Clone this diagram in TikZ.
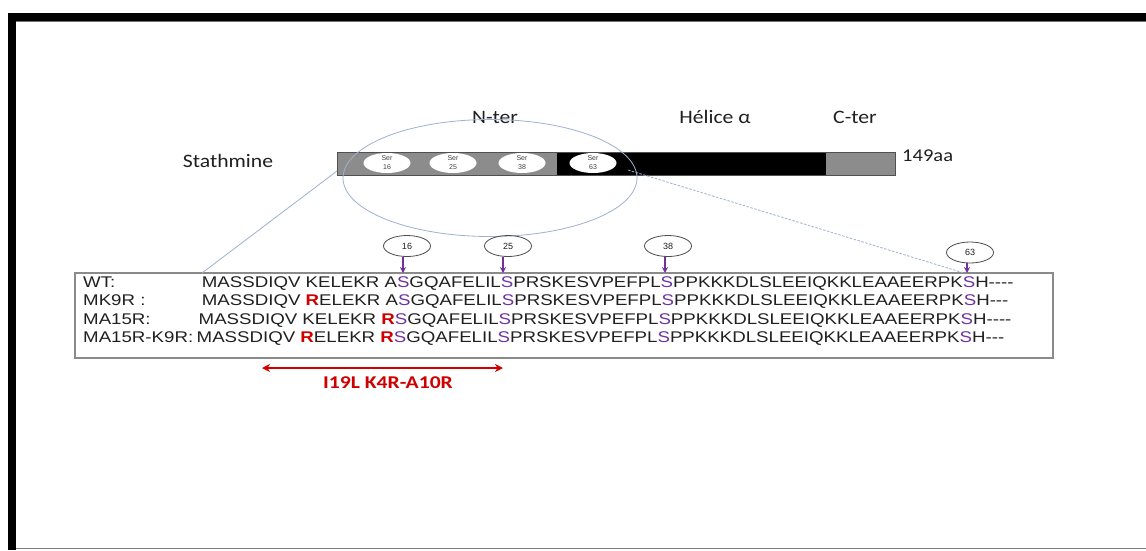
\documentclass[tikz,border=0pt]{standalone}
\usepackage{fontspec}
\usetikzlibrary{shapes.geometric,arrows.meta}
\newfontfamily\labfont[FakeStretch=1.14]{Carlito}
\newfontfamily\mutfont[FakeStretch=1.2]{Carlito}
\newfontfamily\seqfont[FakeStretch=1.205,Ligatures=ResetAll]{Liberation Sans}
\newfontfamily\tagfont{Liberation Sans}
\definecolor{barGray}{HTML}{8C8C8C}
\definecolor{barEdge}{HTML}{505050}
\definecolor{zoomBlue}{HTML}{9DB1D2}
\definecolor{serPurple}{HTML}{7030A0}
\definecolor{mutRed}{HTML}{D00000}
\definecolor{boxGray}{HTML}{8A8A8A}
\definecolor{labText}{HTML}{202020}
\newcommand\phS{\textcolor{serPurple}{S}}
\newcommand\mutR{\textcolor{mutRed}{\bfseries R}}
\begin{document}
\begin{tikzpicture}[x=1pt,y=-1pt,
  lab/.style={font=\labfont\fontsize{19}{21}\selectfont, inner sep=0pt, text=labText},
  seq/.style={font=\seqfont\fontsize{15.5}{17}\selectfont, inner sep=0pt, anchor=base west, text=labText},
  serell/.style={ellipse, fill=white, minimum width=47pt, minimum height=20pt, inner sep=0pt,
    align=center, font=\tagfont\fontsize{7}{9}\selectfont, text=black!75},
  sitetag/.style={ellipse, draw=black!70, line width=0.8pt, minimum width=47pt, minimum height=21pt,
    inner sep=0pt, font=\tagfont\fontsize{9}{10}\selectfont, text=labText},
  sitearrow/.style={serPurple, line width=1.2pt, -{Stealth[length=6pt,width=6pt]}},
  zoomline/.style={zoomBlue, line width=0.8pt}]
\useasboundingbox (0,0) rectangle (1146,550);
\fill[white] (0,0) rectangle (1146,550);

% page frame
\fill[black] (8,13) rectangle (1146,21);
\fill[black] (8,13) rectangle (16,550);
\draw[black!55, line width=0.8pt] (16,21.4) -- (1146,21.4);
\draw[black!50, line width=1pt] (16,548) -- (1146,548);

% domain labels
\node[lab] (name) at (228,161) {Stathmine};
\node[lab] (nter) at (495,117) {N-ter};
\node[lab] (helix) at (715,117) {Hélice α};
\node[lab] (cter) at (855,117) {C-ter};
\node[lab, font=\labfont\fontsize{18}{20}\selectfont, anchor=west] (len) at (902,156) {149aa};

% protein bar
\fill[barGray] (337,152) rectangle (557,175);
\fill[black] (557,152) rectangle (826,175);
\fill[barGray] (826,152) rectangle (895,175);
\draw[barEdge, line width=1pt] (337,152) rectangle (895,175);

% serine sites on the bar
\node[serell] (b16) at (387,163) {Ser\\16};
\node[serell] (b25) at (453,163) {Ser\\25};
\node[serell] (b38) at (522,163) {Ser\\38};
\node[serell] (b63) at (593,163) {Ser\\63};

% zoomed region
\node[ellipse, draw=zoomBlue, line width=0.8pt, minimum width=294pt, minimum height=117pt,
  inner sep=0pt] (zoom) at (490,178) {};
\coordinate (zl) at (337,171);
\coordinate (zr) at (628,170);

% sequence alignment box
\node[draw=boxGray, line width=1.2pt, minimum width=978pt, minimum height=85pt, inner sep=0pt]
  (seqbox) at (564,315.5) {};
\coordinate (boxl) at (202,273);
\coordinate (boxr) at (964,273);
\draw[zoomline] (zl) -- (boxl);
\draw[zoomline, dash pattern=on 2.5pt off 1.5pt] (zr) -- (boxr);

\node[seq] (l1) at (83,287) {WT:};
\node[seq] (l2) at (83,305.5) {MK9R :};
\node[seq] (l3) at (83,324) {MA15R:};
\node[seq] (l4) at (83,342.5) {MA15R-K9R:};

\node[seq] (s1) at (201.7,287) {MASSDIQV KELEKR A\phS GQAFELIL\phS PRSKESVPEFPL\phS PPKKKDLSLEEIQKKLEAAEERPK\phS H----};
\node[seq] (s2) at (201.7,305.5) {MASSDIQV \mutR ELEKR A\phS GQAFELIL\phS PRSKESVPEFPL\phS PPKKKDLSLEEIQKKLEAAEERPK\phS H---};
\node[seq] (s3) at (198.5,324) {MASSDIQV KELEKR \mutR\phS GQAFELIL\phS PRSKESVPEFPL\phS PPKKKDLSLEEIQKKLEAAEERPK\phS H----};
\node[seq] (s4) at (196.5,342.5) {MASSDIQV \mutR ELEKR \mutR\phS GQAFELIL\phS PRSKESVPEFPL\phS PPKKKDLSLEEIQKKLEAAEERPK\phS H---};

% phosphorylation site tags
\node[sitetag] (t16) at (407,246) {16};
\node[sitetag] (t25) at (508,246) {25};
\node[sitetag] (t38) at (668,246) {38};
\node[sitetag] (t63) at (970,252.5) {63};
\coordinate (a16) at (403,273);
\coordinate (a25) at (503,273);
\coordinate (a38) at (665,273);
\coordinate (a63) at (967,273);
\draw[sitearrow] (t16.south -| a16) -- (a16);
\draw[sitearrow] (t25.south -| a25) -- (a25);
\draw[sitearrow] (t38.south -| a38) -- (a38);
\draw[sitearrow] (t63.south -| a63) -- (a63);

% mutated stretch
\coordinate (ml) at (262,368);
\coordinate (mr) at (503,368);
\draw[mutRed, line width=1.8pt, {Stealth[length=8pt,width=8pt,inset=2.5pt]}-{Stealth[length=8pt,width=8pt,inset=2.5pt]}] (ml) -- (mr);
\node[lab, text=mutRed, font=\mutfont\bfseries\fontsize{18}{20}\selectfont] (mut) at (388,383) {I19L K4R-A10R};
\end{tikzpicture}
\end{document}
